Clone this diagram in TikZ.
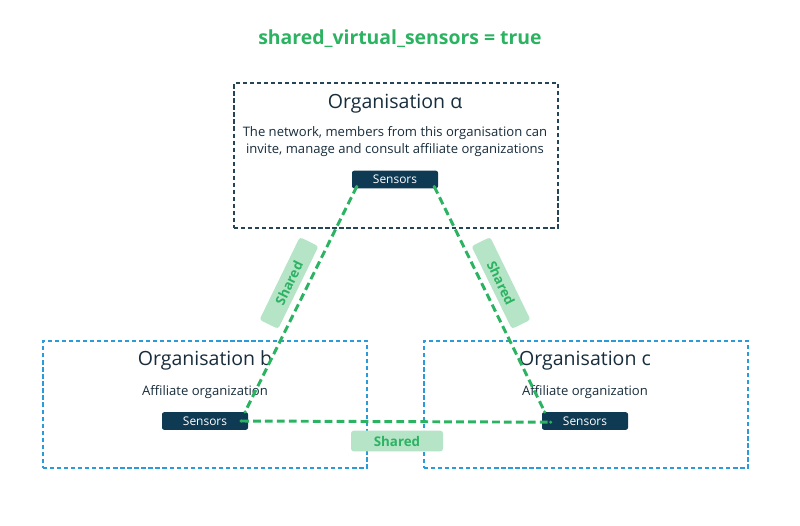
\documentclass[tikz,border=0pt]{standalone}
\usepackage{fontspec}
\setmainfont{Open Sans}
\usepackage{tikz}
\usetikzlibrary{positioning,calc}
\definecolor{vert}{RGB}{43,179,98}
\definecolor{vertlight}{RGB}{181,228,199}
\definecolor{marine}{RGB}{14,58,83}
\definecolor{encre}{RGB}{24,45,60}
\definecolor{nuit}{RGB}{38,68,88}
\definecolor{ciel}{RGB}{42,154,216}

\begin{document}
\begin{tikzpicture}[font=\fontsize{9.3}{12}\selectfont,
				orgbox/.style={draw=#1,dash pattern=on 3pt off 2pt,line width=0.9pt,
					minimum width=8.1cm},
				sensor/.style={fill=marine,rounded corners=1.5pt,text=white,
					minimum width=2.15cm,minimum height=0.44cm,inner sep=0pt,
					font=\fontsize{8.5}{10}\selectfont},
				titre/.style={text=encre,font=\fontsize{13.9}{16}\selectfont},
				lien/.style={vert,line width=2.1pt,dash pattern=on 5.5pt off 3pt},
				tag/.style={fill=vertlight,rounded corners=2pt,text=vert,
					minimum width=2.3cm,minimum height=0.52cm,inner sep=0pt,
					font=\fontsize{9.5}{11}\selectfont\bfseries}]
				
				\useasboundingbox (0,0) rectangle (20,-13.125);
				
				\node[text=vert,font=\fontsize{13.8}{16}\selectfont\bfseries] (T) at (10,-0.97)
				{shared\_virtual\_sensors = true};
				
				\node[orgbox=nuit,minimum height=3.625cm] (A) at (9.9,-3.8875) {};
				\node[orgbox=ciel,minimum height=3.175cm] (B) at (5.125,-10.1125) {};
				\node[orgbox=ciel,minimum height=3.175cm] (C) at (14.65,-10.1125) {};
				
				\node[titre] (tA) at (9.875,-2.6) {Organisation α};
				\node[text=encre,align=center] (dA) at (9.875,-3.54)
				{The network, members from this organisation can\\invite, manage and consult affiliate organizations};
				\node[sensor] (sA) at (9.875,-4.4875) {Sensors};
				
				\node[titre] (tB) at (5.125,-9.02) {Organisation b};
				\node[text=encre] (dB) at (5.125,-9.8) {Affiliate organization};
				\node[sensor] (sB) at (5.125,-10.525) {Sensors};
				
				\node[titre] (tC) at (14.625,-9.02) {Organisation c};
				\node[text=encre] (dC) at (14.625,-9.8) {Affiliate organization};
				\node[sensor] (sC) at (14.625,-10.525) {Sensors};
				
				\coordinate (a1) at ($(sA.south west)+(0.125,0.05)$);
				\coordinate (a2) at ($(sA.south east)+(-0.1,0.05)$);
				\coordinate (b1) at ($(sB.north east)+(-0.08,0)$);
				\coordinate (b2) at ($(sB.east)+(-0.18,0)$);
				\coordinate (c1) at ($(sC.north west)+(0.075,0)$);
				\coordinate (c2) at ($(sC.west)+(0.225,-0.03)$);
				
				\draw[lien] (a1)--(b1);
				\draw[lien] (a2)--(c1);
				\draw[lien] (b2)--(c2);
				\foreach \p in {a1,a2,b1,b2,c1,c2}
				\fill[vert] (\p) circle (1.2pt);
				
				\node[tag,rotate=64] (gAB) at (7.225,-7.075) {Shared};
				\node[tag,rotate=-64] (gAC) at (12.525,-7.075) {Shared};
				\node[tag] (gBC) at (9.925,-11.025) {Shared};
			\end{tikzpicture}
\end{document}
